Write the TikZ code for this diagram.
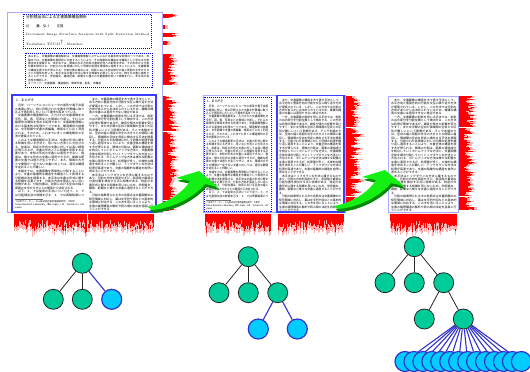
\documentclass[tikz,border=0pt]{standalone}
\usepackage{fontspec}
\usepackage{graphicx}
\newfontfamily\jp{Noto Sans CJK JP}
\XeTeXlinebreaklocale "ja"
\XeTeXlinebreakskip=0pt plus 0.4pt
\pgfdeclarelayer{back}
\pgfdeclarelayer{edges}
\pgfsetlayers{back,edges,main}

\definecolor{nodegreen}{RGB}{0,204,153}
\definecolor{leafcyan}{RGB}{0,204,255}
\definecolor{edgeblue}{RGB}{51,51,204}
\definecolor{framelav}{RGB}{170,170,255}
\definecolor{boxblue}{RGB}{60,60,255}
\definecolor{dotblue}{RGB}{0,0,220}
\definecolor{arrowgreen}{RGB}{20,240,20}
\definecolor{arrowdark}{RGB}{0,140,0}

\tikzset{
  inner/.style={circle, draw=black!85, fill=nodegreen, minimum size=20pt, inner sep=0pt, line width=0.8pt},
  leaf/.style={circle, draw=edgeblue, fill=leafcyan, minimum size=20pt, inner sep=0pt, line width=1.2pt},
  tedge/.style={line width=0.8pt, black!85},
  bedge/.style={line width=1.1pt, edgeblue},
  pageframe/.style={draw=framelav, line width=0.9pt},
  solidbox/.style={draw=boxblue, line width=1.3pt},
  dotbox/.style={draw=dotblue, line width=1pt, dash pattern=on 1pt off 1pt},
  colnode/.style={anchor=north west, inner sep=0pt},
  pagetext/.style={anchor=north west, inner sep=0pt, align=justify, font=\jp\fontsize{2.9}{3.45}\selectfont},
}
\newcommand\bodyfont{\jp\fontsize{2.9}{3.45}\selectfont}

% ---------- page texts ----------
\newcommand\abstracttext{あらまし　文書画像の構造解析は，文書画像理解システムにおける基本的な処理の一つである．本論文では，文書画像を再帰的に分割することにより，その階層的な構造を木構造として求める分割検出法を提案する．本手法では，領域の水平方向及び垂直方向への射影を求め，その形状から分割位置を検出する．分割された各領域に対して同様の処理を再帰的に適用することにより，文書画像の構造を表す木が得られる．分割位置の検出には，射影における空白部分の幅と周囲の文字の大きさとの関係を用いる．本手法は文書の形式に関する知識を必要としないため，様々な文書に適用することができる．学術論文，雑誌記事，新聞など種々の文書画像を用いて実験を行い，本手法の有効性を確認した．\par キーワード　文書画像，構造解析，領域分割，射影，木構造}

\newcommand\leftbody{\hspace*{2.9pt}近年，パーソナルコンピュータの普及や電子出版の進展に伴い，紙に印刷された文書を計算機に取り込んで再利用したいという要求が高まっている．\par
\hspace*{2.9pt}文書画像の構造解析は，入力された文書画像を文字列，図，表，写真などの領域に分割し，それらの論理的な関係を求める処理であり，文書画像理解における基本的な処理の一つである．構造解析の結果は，文字認識や文書の再編集，検索などに広く利用される．そのため，これまでに多くの構造解析の手法が提案されている．\par
\hspace*{2.9pt}このような構造解析の手法は，文書の形式に関する知識を用いる方法と，用いない方法とに大別される．前者は，特定の形式の文書に対しては高い精度が得られるが，文書の形式ごとに知識を用意する必要があり，未知の形式の文書には適用できない．後者は，様々な形式の文書に適用できるが，複雑な配置の文書では誤りが生じやすい．また，領域の大きさや間隔が一定でない文書に対しては，適切な閾値を定めることが難しい．\par
\hspace*{2.9pt}本論文では，文書画像を再帰的に分割することにより，文書の階層的な構造を木構造として表現する分割検出法を提案する．本手法は文書の形式に関する知識を必要とせず，分割の方向を固定しない点に特徴がある．分割位置は，射影における空白の幅と周囲の文字の大きさとの関係から決定される．\par
\hspace*{2.9pt}以下，２．では従来の手法について述べ，３．では分割検出法の詳細を示す．４．では実験結果について述べ，５．でまとめる．}

\newcommand\rightbody{\hspace*{2.9pt}また，文書画像の構造を木で表す手法として，水平方向と垂直方向の分割を交互に繰り返す方法が提案されている．しかし，この方法では分割の方向があらかじめ決められているため，複雑な構造の文書には適用できない場合がある．\par
\hspace*{2.9pt}一方，文書画像の射影を用いる手法では，射影の谷の部分を分割位置として検出する．この方法は処理が簡単であるが，雑音や傾きの影響を受けやすく，また文字間の空白と領域間の空白との区別が難しいという問題がある．そこで本論文では，空白の幅と周囲の文字の大きさとの関係に着目し，領域間の空白を安定に検出する手法を提案する．分割された各領域に対して同様の処理を繰り返し適用することにより，文書全体の構造を表す木が得られる．領域の分割は，画素の連結成分を統合していくボトムアップな方法と，文書画像全体を順次分割していくトップダウンな方法とに大別される．ボトムアップな方法は様々な配置の文書に適用できるが，処理量が多く，大域的な構造を求めることが難しい．トップダウンな方法は処理が高速であり，文書の階層的な構造を自然に求めることができる．\par
\hspace*{2.9pt}本手法はトップダウンな方法に属するものであり，分割の方向を固定せずに，各段階で最適な分割位置を検出する点に特徴がある．特定の文書形式に関する知識を用いないため，学術論文，雑誌，新聞など様々な文書に適用することができる．\par
\hspace*{2.9pt}分割の結果得られる木の各節点は文書画像中の矩形領域に対応し，葉は文字列や図などの基本的な領域に対応する．この木を用いることにより，文書の論理構造の解析や読み順の決定を容易に行うことができる．}

% left column (heading, body, footnote), set 69pt wide and scaled horizontally by #3
\newcommand\colA[4]{%
  \node[colnode] (#4-h) at (#1+1,#2+1)
    {\scalebox{#3}[1]{\jp\fontsize{3.2}{3.5}\selectfont 1．まえがき}};
  \begin{scope}
    \clip (#1-1,#2+5) rectangle (#1+69*#3+1,#2+98);
    \node[colnode] (#4-t) at (#1,#2+6)
      {\scalebox{#3}[1]{\parbox[t]{69pt}{\bodyfont\leftbody}}};
  \end{scope}
  \draw[black!55, line width=0.3pt] (#1,#2+101) -- ++(28*#3,0);
  \node[colnode] (#4-f) at (#1,#2+102.5)
    {\scalebox{#3}[1]{\parbox[t]{69pt}{\jp\fontsize{2.3}{3}\selectfont †日本アイ・ビー・エム株式会社東京基礎研究所，大和市\par Tokyo Research Laboratory, IBM Japan, Ltd., Yamato-shi, 242 Japan}}};
}
% right column (continuous body), set 64pt wide and scaled horizontally by #3
\newcommand\colB[5]{%
  \begin{scope}
    \clip (#1-1,#2) rectangle (#1+64*#3+1,#2+#4);
    \node[colnode] (#5) at (#1,#2+0.5)
      {\scalebox{#3}[1]{\parbox[t]{64pt}{\bodyfont\rightbody}}};
  \end{scope}
}

% ---------- projection profiles ----------
\newcommand\hrow[3]{% x0, y, length
  \foreach \dy in {-1.2,-0.6,0,0.6,1.2}{%
    \pgfmathsetmacro\lenB{#3*(0.5+0.5*rnd)}%
    \draw[red!30, line width=0.7pt] (#1,#2+\dy) -- ++(\lenB+3,0);
    \draw[red, line width=0.7pt] (#1,#2+\dy) -- ++(\lenB,0);
  }%
}
\newcommand\hprofile[5]{% x0, first y, rows, pitch, max length
  \foreach \i in {0,...,#3}{%
    \pgfmathsetmacro\yy{#2+#4*\i}%
    \pgfmathsetmacro\lenC{#5*(0.5+0.5*rnd)}%
    \hrow{#1}{\yy}{\lenC}%
  }%
}
\newcommand\vprofile[3]{% x from, x to, top edge
  \pgfmathtruncatemacro\nn{(#2-#1)/0.5}%
  \foreach \i in {0,...,\nn}{%
    \pgfmathsetmacro\xx{#1+0.5*\i}%
    \pgfmathsetmacro\lenA{6+8*rnd+8*rnd*rnd}%
    \draw[red!30, line width=0.7pt] (\xx,#3) -- ++(0,\lenA+4);
    \draw[red, line width=0.7pt] (\xx,#3) -- ++(0,\lenA);
  }%
}

% ---------- curved green arrow ----------
\newcommand\greenarrow{%
  \fill[arrowdark, shift={(1.5,3)}] (148,207) .. controls (165,204) and (182,194) .. (190,181)
     -- (176,178) -- (199,171) -- (218,187) -- (205,184)
     .. controls (195,196) and (175,208) .. (152,210) -- cycle;
  \fill[arrowgreen] (148,207) .. controls (165,204) and (182,194) .. (190,181)
     -- (176,178) -- (199,171) -- (218,187) -- (205,184)
     .. controls (195,196) and (175,208) .. (152,210) -- cycle;
}

\begin{document}
\begin{tikzpicture}[x=1pt,y=-1pt]
\useasboundingbox (0,0) rectangle (530,372);
\begin{pgfonlayer}{back}
  \fill[white] (0,0) rectangle (530,372);
\end{pgfonlayer}
\pgfmathsetseed{11}

% ===== page 1: whole page =====
\node[anchor=west, inner sep=0pt, font=\jp\fontsize{3.8}{4}\selectfont] (ttl) at (26,17.5) {分割検出法による文書画像構造解析};
\node[anchor=west, inner sep=0pt, font=\jp\fontsize{3.4}{4}\selectfont] (aut) at (26,26.5) {辻　　義　弘†　　正員};
\node[anchor=west, inner sep=0pt, font=\fontsize{3.1}{4}\selectfont] (ettl) at (26,34.5)
  {\makebox[123pt][s]{Document Image Structure Analysis with Split Detection Method}};
\node[anchor=west, inner sep=0pt, font=\fontsize{3.4}{4}\selectfont] (eaut) at (26,43) {Yoshihiro TSUJI$^{\dagger}$, Member};
\draw[dotbox] (23,14) rectangle (151,48);

\begin{scope}
  \clip (26,54) rectangle (151,86);
  \node[pagetext, text width=121pt, font=\jp\fontsize{2.7}{3.3}\selectfont] (abs) at (28,55.5) {\abstracttext};
\end{scope}
\draw[dotbox] (25,53) rectangle (152,87);

\colA{15}{98}{1}{p1a}
\colB{89}{97}{1}{113}{p1b}
\draw[pageframe] (7,12) rectangle (162,212);
\draw[solidbox] (12,95) rectangle (156,212);

\hrow{163}{16}{12}
\hrow{163}{27}{3}
\hrow{163}{35}{15}
\hrow{163}{43}{5}
\hprofile{163}{56}{8}{3.45}{16}
\hrow{163}{98}{6}
\hprofile{163}{102}{31}{3.45}{16}
\vprofile{14}{86}{213.5}
\vprofile{88}{153}{213.5}

% ===== page 2: two columns =====
\colA{206}{99}{0.9}{p2a}
\colB{279}{98}{0.97}{112}{p2b}
\draw[pageframe] (203,95) rectangle (345,212);
\draw[dotbox] (204,97) rectangle (271,211);
\draw[solidbox] (277,95.5) rectangle (344,212);
\hprofile{346}{98}{32}{3.45}{16}
\vprofile{205}{270}{213.5}
\vprofile{278}{343}{213.5}

% ===== page 3: one column =====
\colB{391}{98}{1.02}{112}{p3b}
\draw[pageframe] (388,96) rectangle (458,212);
\hprofile{459}{98}{32}{3.45}{17}
\vprofile{390}{456}{213.5}

% ===== arrows between stages =====
\greenarrow
\begin{scope}[shift={(186,-1)}]
  \greenarrow
\end{scope}

% ===== tree 1 =====
\node[inner] (r1) at (82.3,263.3) {};
\node[inner] (a1) at (53.3,299.3) {};
\node[inner] (a2) at (82.3,299.3) {};
\node[leaf]  (a3) at (111.7,299.3) {};

% ===== tree 2 =====
\node[inner] (r2) at (248.3,256.7) {};
\node[inner] (b1) at (219,292.7) {};
\node[inner] (b2) at (248.3,292.7) {};
\node[inner] (b3) at (277.7,292.7) {};
\node[leaf]  (c1) at (258.3,329) {};
\node[leaf]  (c2) at (297.3,329) {};

% ===== tree 3 =====
\node[inner] (r3) at (414.3,246.7) {};
\node[inner] (d1) at (385,282.7) {};
\node[inner] (d2) at (414.3,282.7) {};
\node[inner] (d3) at (443.7,282.7) {};
\node[inner] (e1) at (424.3,319) {};
\node[inner] (e2) at (463.3,319) {};
\foreach \i in {1,...,14}{%
  \pgfmathsetmacro\fx{405+8.95*(\i-1)}%
  \node[leaf] (f\i) at (\fx,361.5) {};
}

\begin{pgfonlayer}{edges}
  \draw[tedge] (r1) -- (a1);
  \draw[tedge] (r1) -- (a2);
  \draw[bedge] (r1) -- (a3);
  \draw[tedge] (r2) -- (b1);
  \draw[tedge] (r2) -- (b2);
  \draw[tedge] (r2) -- (b3);
  \draw[bedge] (b3) -- (c1);
  \draw[bedge] (b3) -- (c2);
  \draw[tedge] (r3) -- (d1);
  \draw[tedge] (r3) -- (d2);
  \draw[tedge] (r3) -- (d3);
  \draw[tedge] (d3) -- (e1);
  \draw[tedge] (d3) -- (e2);
  \foreach \i in {1,...,14}{\draw[bedge] (e2) -- (f\i);}
\end{pgfonlayer}
\end{tikzpicture}
\end{document}
